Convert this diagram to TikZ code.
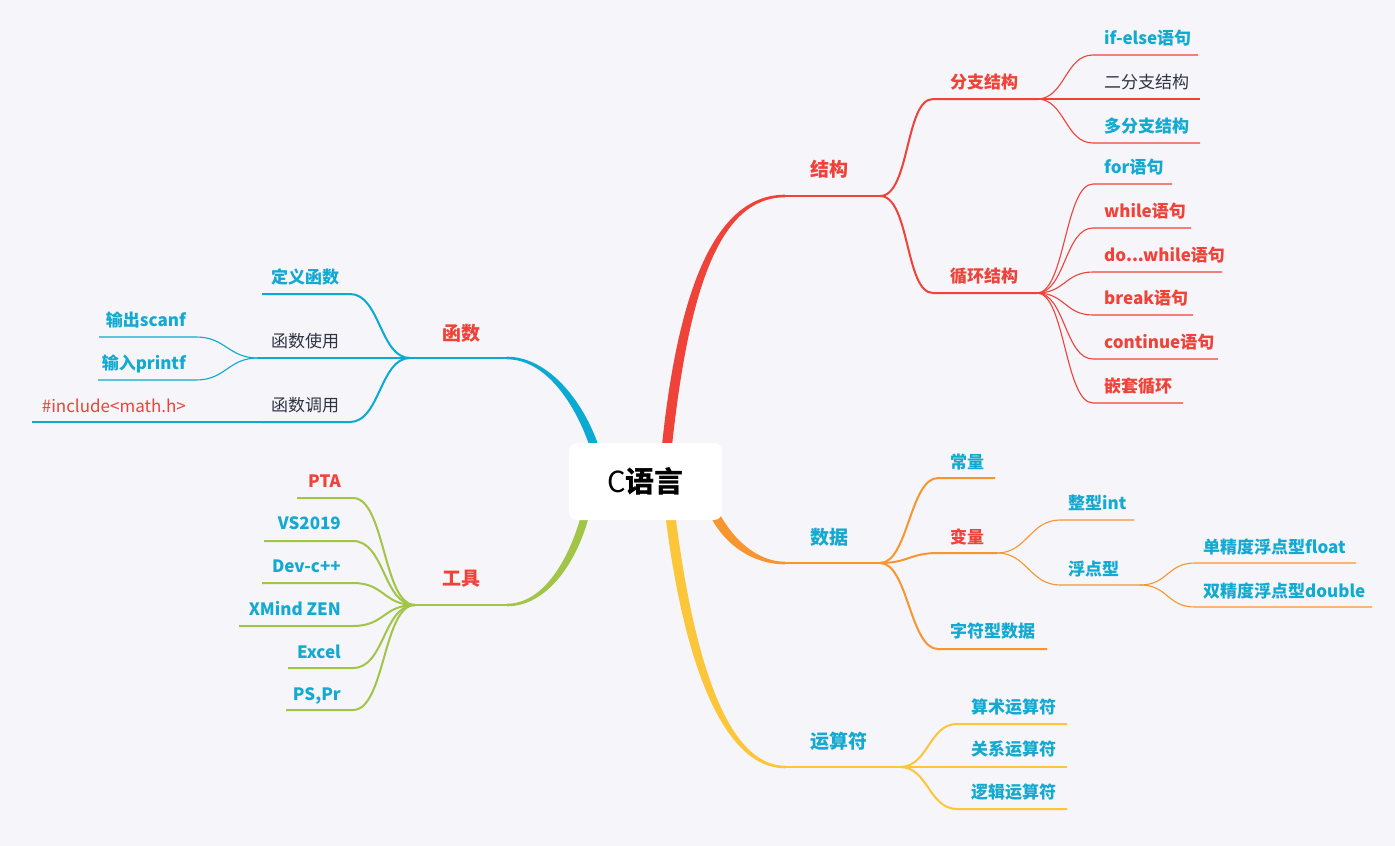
\documentclass[tikz,border=0pt]{standalone}
\usepackage{fontspec}
\setmainfont{Noto Sans CJK SC}
\definecolor{bg}{HTML}{F5F5FA}
\definecolor{rd}{HTML}{EF4238}
\definecolor{cy}{HTML}{14A9D1}
\definecolor{bl}{HTML}{0BAAD2}
\definecolor{og}{HTML}{F7952E}
\definecolor{yl}{HTML}{FCC63A}
\definecolor{gn}{HTML}{A2C548}
\definecolor{dk}{HTML}{2E3443}
\begin{document}
\begin{tikzpicture}[x=1pt,y=-1pt,
  lone/.style={line width=2.5pt},
  ltwo/.style={line width=2pt},
  lthree/.style={line width=1.1pt},
  tbig/.style={font=\fontsize{19}{22}\selectfont\bfseries, inner sep=0pt, anchor=base, yshift=-7pt},
  tmid/.style={font=\fontsize{17}{20}\selectfont\bfseries, inner sep=0pt, anchor=base, yshift=-6pt},
  tnorm/.style={font=\fontsize{17}{20}\selectfont, inner sep=0pt, anchor=base, yshift=-6pt},
  rootbox/.style={fill=white, rounded corners=8pt, minimum width=153pt, minimum height=77pt, inner sep=0pt, font=\fontsize{29}{33}\selectfont}
]
\useasboundingbox (0,0) rectangle (1395,846);
\fill[bg] (0,0) rectangle (1395,846);

% ---------- coordinates ----------
\coordinate (r-jg) at (666,455);
\coordinate (jg-a) at (785,196); \coordinate (jg-b) at (880,196);
\coordinate (fz-a) at (933,99);  \coordinate (fz-b) at (1037,99);
\coordinate (xh-a) at (933,293); \coordinate (xh-b) at (1037,293);
\coordinate (if-a) at (1093,55);  \coordinate (if-b) at (1198,55);
\coordinate (er-a) at (1093,99);  \coordinate (er-b) at (1200,99);
\coordinate (du-a) at (1093,143); \coordinate (du-b) at (1200,143);
\coordinate (fo-a) at (1093,184); \coordinate (fo-b) at (1172,184);
\coordinate (wh-a) at (1093,228); \coordinate (wh-b) at (1191,228);
\coordinate (dw-a) at (1093,272); \coordinate (dw-b) at (1222,272);
\coordinate (bk-a) at (1093,315); \coordinate (bk-b) at (1193,315);
\coordinate (ct-a) at (1093,359); \coordinate (ct-b) at (1218,359);
\coordinate (qt-a) at (1093,403); \coordinate (qt-b) at (1183,403);

\coordinate (r-sj) at (710,505);
\coordinate (sj-a) at (785,563); \coordinate (sj-b) at (880,563);
\coordinate (cl-a) at (938,478); \coordinate (cl-b) at (995,478);
\coordinate (bl-a) at (938,553); \coordinate (bl-b) at (997,553);
\coordinate (zf-a) at (938,649); \coordinate (zf-b) at (1047,649);
\coordinate (zx-a) at (1060,520); \coordinate (zx-b) at (1134,520);
\coordinate (fd-a) at (1060,585); \coordinate (fd-b) at (1140,585);
\coordinate (dj-a) at (1195,563); \coordinate (dj-b) at (1356,563);
\coordinate (sd-a) at (1195,607); \coordinate (sd-b) at (1372,607);

\coordinate (r-ys) at (670,512);
\coordinate (ys-a) at (785,767); \coordinate (ys-b) at (900,767);
\coordinate (ss-a) at (957,724); \coordinate (ss-b) at (1067,724);
\coordinate (gx-b) at (1067,767);
\coordinate (lj-a) at (957,809); \coordinate (lj-b) at (1067,809);

\coordinate (r-hs) at (596,452);
\coordinate (hs-a) at (507,358); \coordinate (hs-b) at (410,358);
\coordinate (dy-a) at (350,294); \coordinate (dy-b) at (262,294);
\coordinate (sy-j) at (258,358);
\coordinate (dd-a) at (350,422); \coordinate (dd-b) at (262,422);
\coordinate (sc-a) at (196,337); \coordinate (sc-b) at (99,337);
\coordinate (pf-a) at (196,380); \coordinate (pf-b) at (98,380);
\coordinate (ic-b) at (32,422);

\coordinate (r-gj) at (586,512);
\coordinate (gj-a) at (507,605); \coordinate (gj-b) at (415,605);
\coordinate (pt-a) at (353,498); \coordinate (pt-b) at (297,498);
\coordinate (vs-a) at (353,541); \coordinate (vs-b) at (264,541);
\coordinate (dv-a) at (353,583); \coordinate (dv-b) at (262,583);
\coordinate (xm-a) at (353,626); \coordinate (xm-b) at (239,626);
\coordinate (ex-a) at (353,668); \coordinate (ex-b) at (288,668);
\coordinate (ps-a) at (353,710); \coordinate (ps-b) at (286,710);

% ---------- tapered main branches ----------
\fill[rd] ([xshift=-5pt]r-jg) .. controls +(16,-165) and +(-70,0) .. ([yshift=1.3pt]jg-a)
  -- ([yshift=-1.3pt]jg-a) .. controls +(-66,0) and +(17,-165) .. ([xshift=5pt]r-jg) -- cycle;
\fill[og] ([xshift=-5pt]r-sj) .. controls +(16,40) and +(-32,0) .. ([yshift=-1.3pt]sj-a)
  -- ([yshift=1.3pt]sj-a) .. controls +(-28,0) and +(16,34) .. ([xshift=5pt]r-sj) -- cycle;
\fill[yl] ([xshift=-5pt]r-ys) .. controls +(18,150) and +(-62,0) .. ([yshift=-1.3pt]ys-a)
  -- ([yshift=1.3pt]ys-a) .. controls +(-58,0) and +(18,146) .. ([xshift=5pt]r-ys) -- cycle;
\fill[bl] ([xshift=4.5pt]r-hs) .. controls +(-14,-47) and +(43,0) .. ([yshift=1.3pt]hs-a)
  -- ([yshift=-1.3pt]hs-a) .. controls +(40,0) and +(-14,-45) .. ([xshift=-4.5pt]r-hs) -- cycle;
\fill[gn] ([xshift=4pt]r-gj) .. controls +(-12,50) and +(40,0) .. ([yshift=-1.3pt]gj-a)
  -- ([yshift=1.3pt]gj-a) .. controls +(37,0) and +(-12,46) .. ([xshift=-4pt]r-gj) -- cycle;

% ---------- 结构 ----------
\draw[rd,lone] (jg-a) -- (jg-b);
\draw[rd,ltwo] (jg-b) .. controls +(30,0) and +(-28,0) .. (fz-a) -- (fz-b);
\draw[rd,ltwo] (jg-b) .. controls +(30,0) and +(-28,0) .. (xh-a) -- (xh-b);
\foreach \c in {if,er,du}{
  \draw[rd,lthree] (fz-b) .. controls +(28,0) and +(-28,0) .. (\c-a) -- (\c-b);
}
\foreach \c in {fo,wh,dw,bk,ct,qt}{
  \draw[rd,lthree] (xh-b) .. controls +(28,0) and +(-28,0) .. (\c-a) -- (\c-b);
}

% ---------- 数据 ----------
\draw[og,lone] (sj-a) -- (sj-b);
\foreach \c in {cl,bl,zf}{
  \draw[og,ltwo] (sj-b) .. controls +(28,0) and +(-28,0) .. (\c-a) -- (\c-b);
}
\foreach \c in {zx,fd}{
  \draw[og,lthree] (bl-b) .. controls +(30,0) and +(-30,0) .. (\c-a) -- (\c-b);
}
\foreach \c in {dj,sd}{
  \draw[og,lthree] (fd-b) .. controls +(28,0) and +(-28,0) .. (\c-a) -- (\c-b);
}

% ---------- 运算符 ----------
\draw[yl,lone] (ys-a) -- (ys-b);
\draw[yl,ltwo] (ys-b) .. controls +(28,0) and +(-28,0) .. (ss-a) -- (ss-b);
\draw[yl,ltwo] (ys-b) -- (gx-b);
\draw[yl,ltwo] (ys-b) .. controls +(28,0) and +(-28,0) .. (lj-a) -- (lj-b);

% ---------- 函数 ----------
\draw[bl,lone] (hs-a) -- (hs-b);
\draw[bl,ltwo] (hs-b) .. controls +(-30,0) and +(30,0) .. (dy-a) -- (dy-b);
\draw[bl,ltwo] (hs-b) -- (sy-j);
\draw[bl,ltwo] (hs-b) .. controls +(-30,0) and +(30,0) .. (dd-a) -- (dd-b);
\draw[bl,lthree] (sy-j) .. controls +(-30,0) and +(30,0) .. (sc-a) -- (sc-b);
\draw[bl,lthree] (sy-j) .. controls +(-30,0) and +(30,0) .. (pf-a) -- (pf-b);
\draw[bl,lthree] (dd-b) -- (ic-b);

% ---------- 工具 ----------
\draw[gn,lone] (gj-a) -- (gj-b);
\foreach \c in {pt,vs,dv,xm,ex,ps}{
  \draw[gn,ltwo] (gj-b) .. controls +(-32,0) and +(32,0) .. (\c-a) -- (\c-b);
}

% ---------- root ----------
\node[rootbox] (root) at (645.5,481.5) {C\textbf{语言}};

% ---------- labels ----------
\node[tbig,anchor=base west,text=rd] (n-jg) at (810,169) {结构};
\node[tmid,anchor=base west,text=rd] (n-fz) at (950,82) {分支结构};
\node[tmid,anchor=base west,text=rd] (n-xh) at (950,276) {循环结构};
\node[tmid,anchor=base west,text=cy] (n-if) at (1104,38) {if-else语句};
\node[tnorm,anchor=base west,text=dk] (n-er) at (1104,82) {二分支结构};
\node[tmid,anchor=base west,text=cy] (n-du) at (1104,126) {多分支结构};
\node[tmid,anchor=base west,text=cy] (n-fo) at (1104,167) {for语句};
\node[tmid,anchor=base west,text=rd] (n-wh) at (1104,211) {while语句};
\node[tmid,anchor=base west,text=rd] (n-dw) at (1104,255) {do...while语句};
\node[tmid,anchor=base west,text=rd] (n-bk) at (1104,298) {break语句};
\node[tmid,anchor=base west,text=rd] (n-ct) at (1104,342) {continue语句};
\node[tmid,anchor=base west,text=rd] (n-qt) at (1104,386) {嵌套循环};

\node[tbig,anchor=base west,text=cy] (n-sj) at (810,537) {数据};
\node[tmid,anchor=base west,text=cy] (n-cl) at (950,462) {常量};
\node[tmid,anchor=base west,text=rd] (n-bl) at (950,537) {变量};
\node[tmid,anchor=base west,text=cy] (n-zf) at (950,631) {字符型数据};
\node[tmid,anchor=base west,text=cy] (n-zx) at (1068,503) {整型int};
\node[tmid,anchor=base west,text=cy] (n-fd) at (1068,569) {浮点型};
\node[tmid,anchor=base west,text=cy] (n-dj) at (1203,547) {单精度浮点型float};
\node[tmid,anchor=base west,text=cy] (n-sd) at (1203,591) {双精度浮点型double};

\node[tbig,anchor=base west,text=cy] (n-ys) at (810,741) {运算符};
\node[tmid,anchor=base west,text=cy] (n-ss) at (971,707) {算术运算符};
\node[tmid,anchor=base west,text=cy] (n-gx) at (971,749) {关系运算符};
\node[tmid,anchor=base west,text=cy] (n-lj) at (971,792) {逻辑运算符};

\node[tbig,text=rd] (n-hs) at (461,333) {函数};
\node[tmid,anchor=base west,text=cy] (n-dy) at (271,277) {定义函数};
\node[tnorm,anchor=base west,text=dk] (n-sy) at (271,341) {函数使用};
\node[tnorm,anchor=base west,text=dk] (n-dd) at (271,405) {函数调用};
\node[tmid,anchor=base east,text=cy] (n-sc) at (186,320) {输出scanf};
\node[tmid,anchor=base east,text=cy] (n-pf) at (186,363) {输入printf};
\node[tnorm,anchor=base east,text=rd] (n-ic) at (186,406) {\#include<math.h>};

\node[tbig,text=rd] (n-gj) at (461,578) {工具};
\node[tmid,anchor=base east,text=rd] (n-pt) at (341,481) {PTA};
\node[tmid,anchor=base east,text=cy] (n-vs) at (341,523) {VS2019};
\node[tmid,anchor=base east,text=cy] (n-dv) at (341,566) {Dev-c++};
\node[tmid,anchor=base east,text=cy] (n-xm) at (341,609) {XMind ZEN};
\node[tmid,anchor=base east,text=cy] (n-ex) at (341,652) {Excel};
\node[tmid,anchor=base east,text=cy] (n-ps) at (341,694) {PS,Pr};
\end{tikzpicture}
\end{document}
